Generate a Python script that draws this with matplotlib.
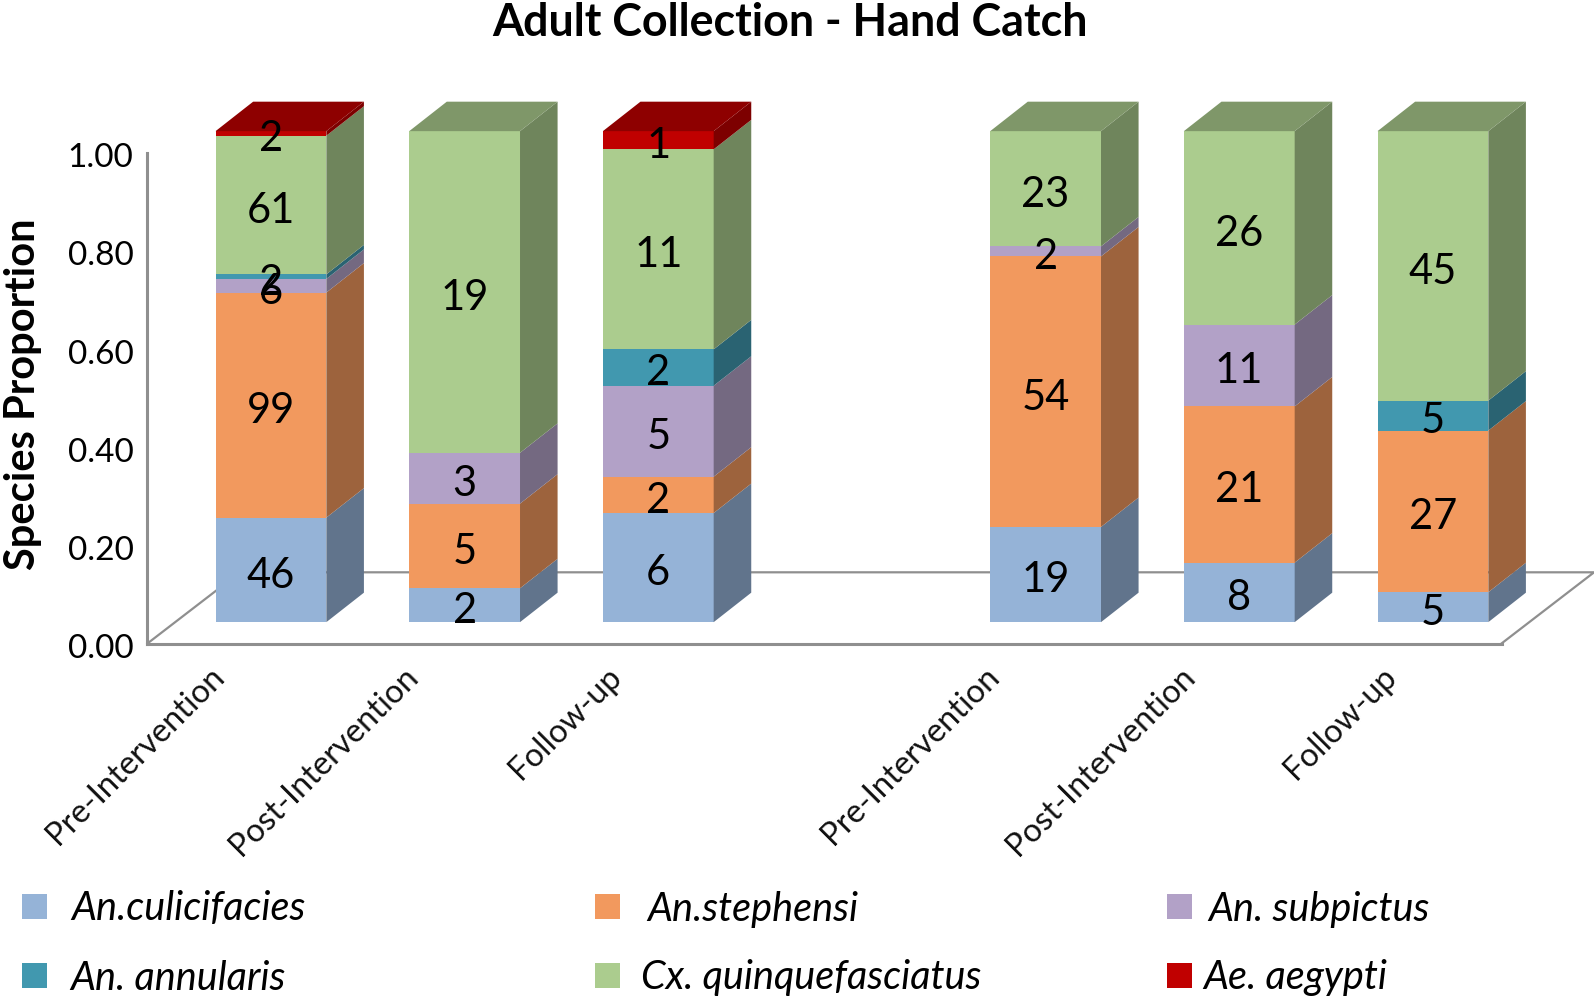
# -*- coding: utf-8 -*-
# Stacked proportion bars with a fake 3D look (Excel style)

import numpy as np
import matplotlib
matplotlib.use('Agg')
import matplotlib.pyplot as plt
from matplotlib.patches import Polygon, Rectangle
from matplotlib.colors import to_rgb
from matplotlib.transforms import ScaledTranslation

plt.rcParams['font.family'] = ['Lato', 'DejaVu Sans']

# datos
periods = ['Pre-Intervention', 'Post-Intervention', 'Follow-up',
           'Pre-Intervention', 'Post-Intervention', 'Follow-up']
positions = [0, 1, 2, 4, 5, 6]

species = ['An.culicifacies', 'An.stephensi', 'An. subpictus',
           'An. annularis', 'Cx. quinquefasciatus', 'Ae. aegypti']
culicifacies = [46, 2, 6, 19, 8, 5]
stephensi = [99, 5, 2, 54, 21, 27]
subpictus = [6, 3, 5, 2, 11, 0]
annularis = [2, 0, 2, 0, 0, 5]
quinquefasciatus = [61, 19, 11, 23, 26, 45]
aegypti = [2, 0, 1, 0, 0, 0]

front_colors = ['#95b3d7', '#f2995e', '#b2a1c7', '#4198af', '#abcc8e', '#c00000']
side_shade = 0.65
top_shade = 0.74

yticks = [0.0, 0.2, 0.4, 0.6, 0.8, 1.0]

counts = np.array([culicifacies, stephensi, subpictus, annularis,
                   quinquefasciatus, aegypti], dtype=float)
props = counts / counts.sum(axis=0)

# profundidad del efecto 3D, en unidades de los ejes
bar_w = 0.572
lift = 0.0435
depth_x = 0.194
depth_y = 0.060
floor_x = 0.478
floor_y = 0.145
axis_col = '#8f8f8f'
label_shift = [-0.32, -0.32, -0.27, -0.32, -0.31, -0.27]


def shade(col, f):
    return tuple(c * f for c in to_rgb(col))


W, H = 1594, 1000
fig = plt.figure(figsize=(W / 100, H / 100), dpi=100)
ax = fig.add_axes([147.4 / W, 1 - 643.5 / H, (1501.5 - 147.4) / W, (643.5 - 152.5) / H])
ax.set_xlim(-0.638, 6.354)
ax.set_ylim(0, 1)
ax.patch.set_visible(False)

# suelo
xmin, xmax = ax.get_xlim()
ax.plot([xmin, xmin + floor_x, xmax + floor_x, xmax], [0, floor_y, floor_y, 0],
        color=axis_col, lw=1.6, clip_on=False, zorder=1, solid_joinstyle='miter')

for spine in ['top', 'right']:
    ax.spines[spine].set_visible(False)
for spine in ['left', 'bottom']:
    ax.spines[spine].set_color(axis_col)
    ax.spines[spine].set_linewidth(2.2)

for j, x in enumerate(positions):
    base = lift
    left = x - bar_w / 2
    right = x + bar_w / 2
    top_idx = np.nonzero(props[:, j])[0][-1]
    for i in range(len(species)):
        h = props[i, j]
        if h == 0:
            continue
        ax.bar(x, h, bottom=base, width=bar_w, color=front_colors[i], lw=0,
               clip_on=False, zorder=3)
        ax.add_patch(Polygon([(right, base), (right + depth_x, base + depth_y),
                              (right + depth_x, base + h + depth_y), (right, base + h)],
                             closed=True, fc=shade(front_colors[i], side_shade), lw=0,
                             clip_on=False, zorder=3))
        if i == top_idx:
            t = base + h
            ax.add_patch(Polygon([(left, t), (left + depth_x, t + depth_y),
                                  (right + depth_x, t + depth_y), (right, t)],
                                 closed=True, fc=shade(front_colors[i], top_shade), lw=0,
                                 clip_on=False, zorder=3))
        ax.text(x, base + h / 2 - 0.012, f'{counts[i, j]:.0f}', ha='center', va='center',
                fontsize=30, color='black', zorder=5)
        base += h

ax.set_yticks(yticks)
ax.set_yticklabels([f'{v:.2f}' for v in yticks], fontsize=24)
ax.tick_params(axis='y', length=0, pad=10)
# las etiquetas del eje y van un poco mas abajo que la marca
for lab in ax.get_yticklabels():
    lab.set_transform(lab.get_transform() + ScaledTranslation(0, -2 / 72, fig.dpi_scale_trans))
ax.set_xticks([p + s for p, s in zip(positions, label_shift)])
ax.set_xticklabels(periods, rotation=45, ha='right', va='top', rotation_mode='anchor',
                   fontsize=23.5, color='#111111')
ax.tick_params(axis='x', length=0, pad=13)

fig.text(790 / W, 1 - 23 / H, 'Adult Collection - Hand Catch', ha='center', va='center',
         fontsize=32.3, fontweight='bold')
fig.text(23 / W, 1 - 394 / H, 'Species Proportion', rotation=90, ha='center', va='center',
         fontsize=30, fontweight='bold')

# leyenda a mano, las columnas no estan alineadas en el original
legend_sq = [(22, 919), (595, 919), (1167, 919), (22, 988), (595, 988), (1167, 988)]
legend_tx = [71, 647, 1208, 70, 641, 1203]
for i, name in enumerate(species):
    sx, sy = legend_sq[i]
    fig.add_artist(Rectangle((sx / W, 1 - sy / H), 25 / W, 25 / H, fc=front_colors[i], lw=0,
                             transform=fig.transFigure))
    fig.text(legend_tx[i] / W, 1 - (sy - 10) / H, name, ha='left', va='center',
             fontsize=28.5, fontstyle='italic')

fig.savefig('out.png', dpi=100)
